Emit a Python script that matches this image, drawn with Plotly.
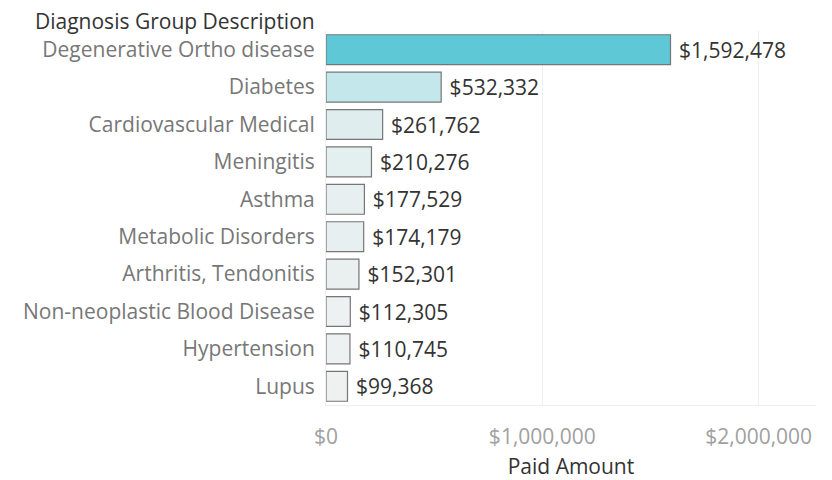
import plotly.graph_objects as go

# Data
diagnosis_groups = [
    "Degenerative Ortho disease",
    "Diabetes",
    "Cardiovascular Medical",
    "Meningitis",
    "Asthma",
    "Metabolic Disorders",
    "Arthritis, Tendonitis",
    "Non-neoplastic Blood Disease",
    "Hypertension",
    "Lupus",
]
paid_amount = [1592478, 532332, 261762, 210276, 177529, 174179, 152301, 112305, 110745, 99368]
tick_values = [0, 1000000, 2000000]
tick_labels = ["$0", "$1,000,000", "$2,000,000"]

FONT = "Open Sans"

fig = go.Figure(
    go.Bar(
        x=paid_amount,
        y=diagnosis_groups,
        orientation="h",
        width=0.8,
        marker=dict(
            color=paid_amount,
            colorscale=[[0, "#eff1f1"], [0.3, "#c3e7eb"], [1, "#5fc8d6"]],
            line=dict(color="#767676", width=1.2),
        ),
        text=[f" ${v:,}" for v in paid_amount],
        textposition="outside",
        textfont=dict(family=FONT, size=21, color="#333333"),
        cliponaxis=False,
        hoverinfo="skip",
    )
)

# the html page puts the plot 8px in from the corner, so the figure is 8px smaller
fig.update_layout(
    width=824,
    height=472,
    margin=dict(l=318, r=16, t=23, b=75),
    plot_bgcolor="white",
    paper_bgcolor="white",
    showlegend=False,
    xaxis=dict(
        range=[0, 2265000],
        tickvals=tick_values,
        ticktext=tick_labels,
        tickfont=dict(family=FONT, size=21, color="#a0a0a0"),
        showgrid=True,
        gridcolor="#eeeeee",
        zeroline=False,
        showline=True,
        linecolor="#eeeeee",
        ticks="outside",
        ticklen=13,
        tickcolor="white",
        title=dict(text="Paid Amount", font=dict(family=FONT, size=21, color="#333333", weight=500), standoff=10),
        automargin=False,
        fixedrange=True,
    ),
    yaxis=dict(
        categoryorder="array",
        categoryarray=diagnosis_groups,
        autorange="reversed",
        tickfont=dict(family=FONT, size=21, color="#777777"),
        ticks="outside",
        ticklen=6,
        tickcolor="white",
        showline=True,
        linecolor="#eeeeee",
        showgrid=False,
        automargin=False,
        fixedrange=True,
    ),
    annotations=[
        dict(
            text="Diagnosis Group Description",
            xref="paper",
            yref="paper",
            x=0,
            y=1,
            xanchor="right",
            yanchor="bottom",
            xshift=-9,
            yshift=-6,
            showarrow=False,
            font=dict(family=FONT, size=21, color="#333333", weight=500),
        )
    ],
)

fig.write_html("out.html")
